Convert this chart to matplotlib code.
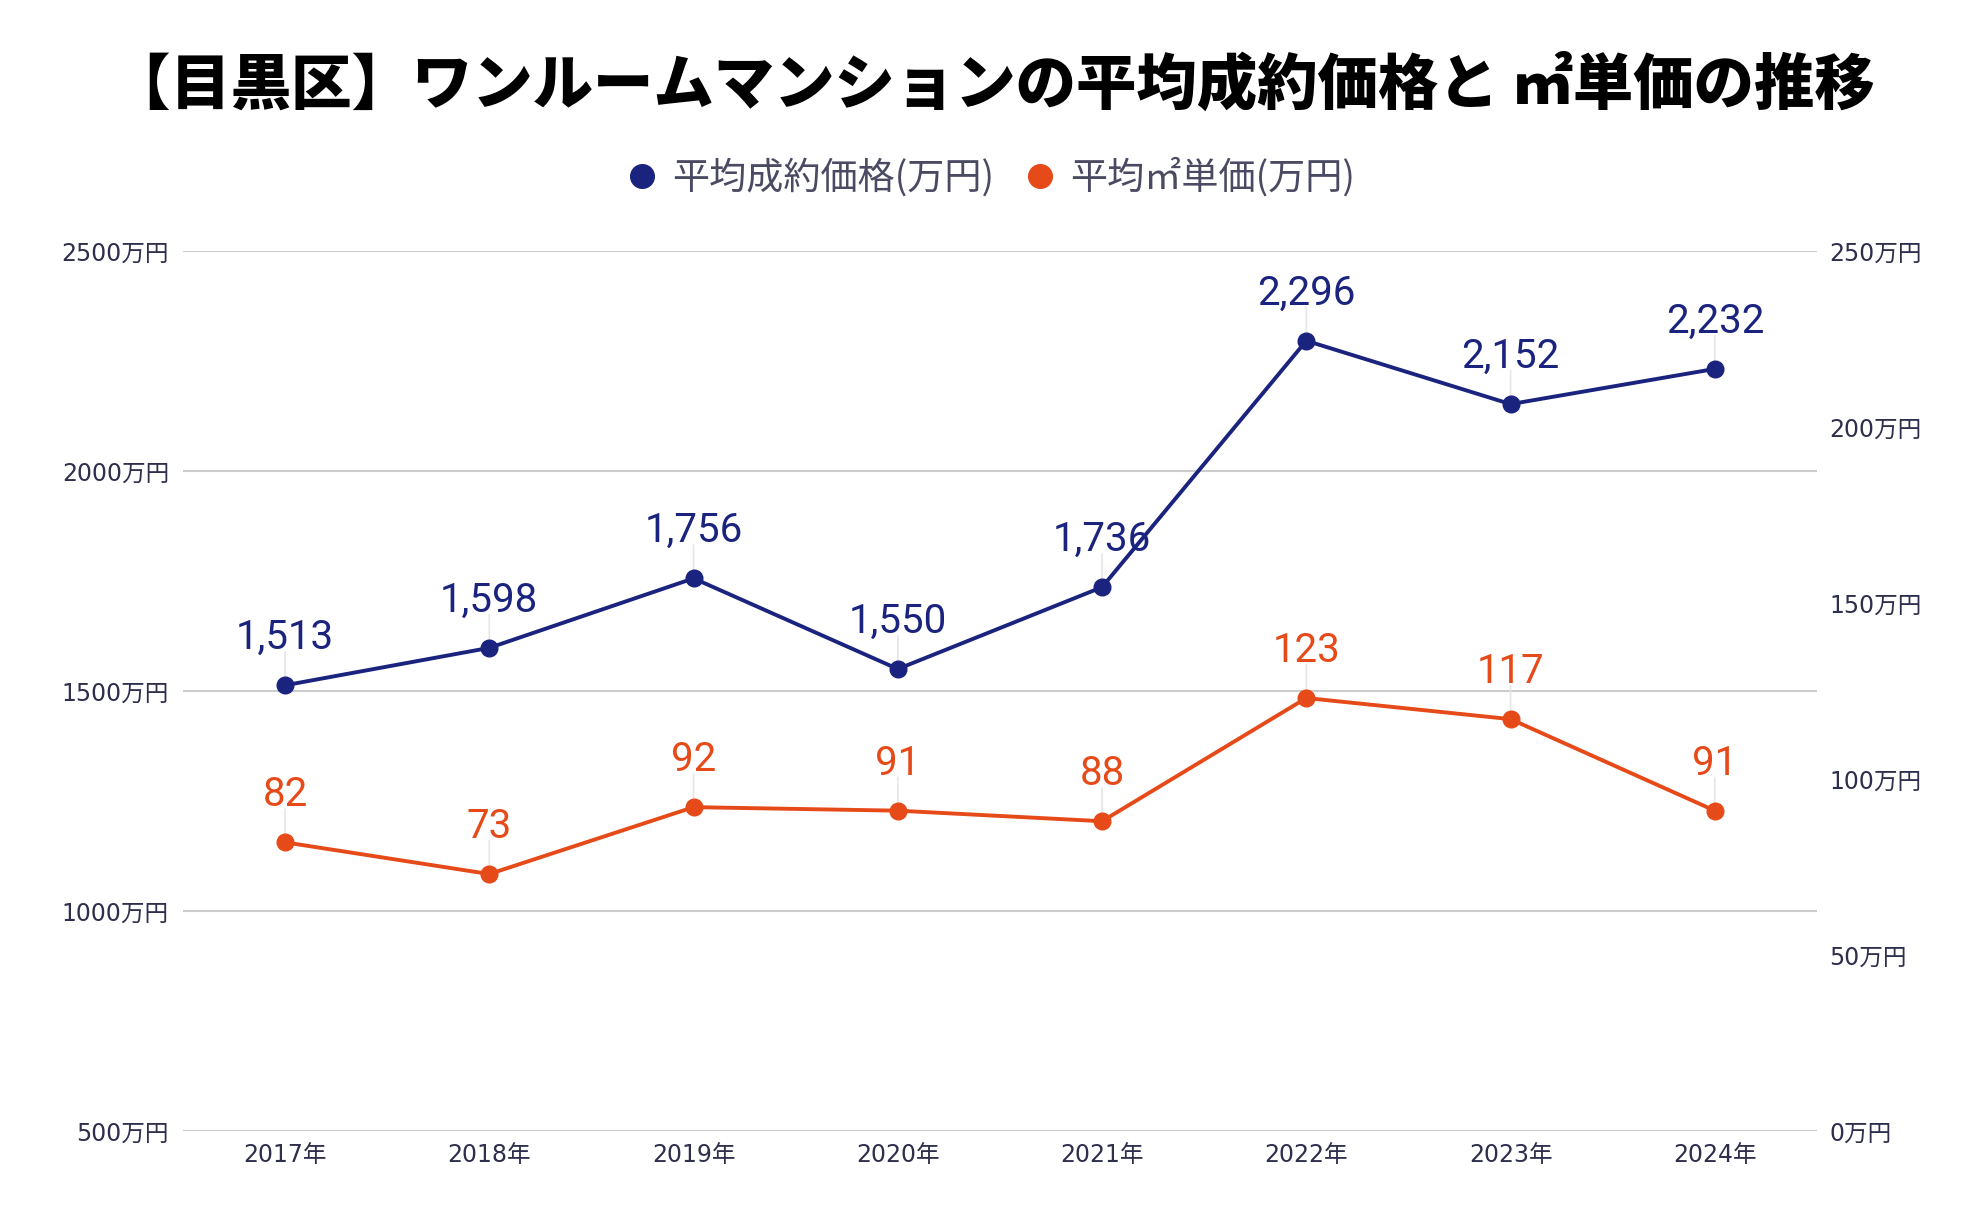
#!/usr/bin/env python3
"""
目黒区 ワンルームマンション 平均成約価格と㎡単価の推移 (dual axis line chart).
"""

import matplotlib.pyplot as plt
from matplotlib.lines import Line2D

plt.rcParams["font.family"] = ["DejaVu Sans", "Noto Sans CJK JP"]

# データ
years = ["2017年", "2018年", "2019年", "2020年", "2021年", "2022年", "2023年", "2024年"]
avg_price = [1513, 1598, 1756, 1550, 1736, 2296, 2152, 2232]
unit_price = [82, 73, 92, 91, 88, 123, 117, 91]

left_ticks = [500, 1000, 1500, 2000, 2500]
right_ticks = [0, 50, 100, 150, 200, 250]

title = "【目黒区】ワンルームマンションの平均成約価格と ㎡単価の推移"
label_price = "平均成約価格(万円)"
label_unit = "平均㎡単価(万円)"

BLUE = "#1a237e"
ORANGE = "#e64a19"
GRID = "#cccccc"
TICK_COLOR = "#2e2e4d"
LEGEND_COLOR = "#4a4a63"
LEADER = "#e6e6e6"

fig = plt.figure(figsize=(19.84, 12.28), dpi=100)
ax = fig.add_axes([0.0922, 0.079, 0.8236, 0.7166])
ax2 = ax.twinx()

x = list(range(len(years)))

ax.plot(x, avg_price, color=BLUE, lw=2.8, marker="o", ms=12, zorder=3)
ax2.plot(x, unit_price, color=ORANGE, lw=2.8, marker="o", ms=12, zorder=3)


def add_labels(axis, values, color, fmt):
    for xi, v in zip(x, values):
        # 細い引き出し線
        axis.annotate(
            "", xy=(xi, v), xytext=(0, 24), textcoords="offset points",
            arrowprops=dict(arrowstyle="-", color=LEADER, lw=1.2,
                            shrinkA=0, shrinkB=0),
            zorder=1,
        )
        axis.annotate(
            fmt(v), xy=(xi, v), xytext=(0, 26), textcoords="offset points",
            ha="center", va="baseline", color=color, fontsize=29,
            family=["Roboto", "DejaVu Sans"], zorder=4,
        )


add_labels(ax, avg_price, BLUE, lambda v: f"{v:,}")
add_labels(ax2, unit_price, ORANGE, lambda v: f"{v}")

ax.set_xlim(-0.5, len(years) - 0.5)
ax.set_ylim(500, 2500)
ax2.set_ylim(0, 250)

ax.set_xticks(x)
ax.set_xticklabels(years)
ax.set_yticks(left_ticks)
ax.set_yticklabels([f"{t}万円" for t in left_ticks])
ax2.set_yticks(right_ticks)
ax2.set_yticklabels([f"{t}万円" for t in right_ticks])

ax.grid(axis="y", color=GRID, lw=1.5)
ax.set_axisbelow(True)
for a in (ax, ax2):
    for s in a.spines.values():
        s.set_visible(False)
ax.tick_params(axis="both", length=0, labelsize=17, labelcolor=TICK_COLOR)
ax.tick_params(axis="y", pad=10)
ax.tick_params(axis="x", pad=9)
ax2.tick_params(axis="y", length=0, labelsize=17, labelcolor=TICK_COLOR, pad=9)

fig.text(0.5, 0.93, title, ha="center", va="center", fontsize=43.5,
         fontweight="black", family=["Noto Sans CJK JP", "DejaVu Sans"])

handles = [
    Line2D([], [], ls="none", marker="o", ms=17, color=BLUE),
    Line2D([], [], ls="none", marker="o", ms=17, color=ORANGE),
]
leg = fig.legend(
    handles, [label_price, label_unit], loc="center", bbox_to_anchor=(0.4985, 0.855),
    ncol=2, frameon=False, handletextpad=0.3, columnspacing=0.75,
    handlelength=1.0,
    prop={"family": ["Noto Sans CJK JP", "DejaVu Sans"], "size": 26.7},
)
for t in leg.get_texts():
    t.set_color(LEGEND_COLOR)

plt.savefig("out.png", dpi=100)
plt.close()
